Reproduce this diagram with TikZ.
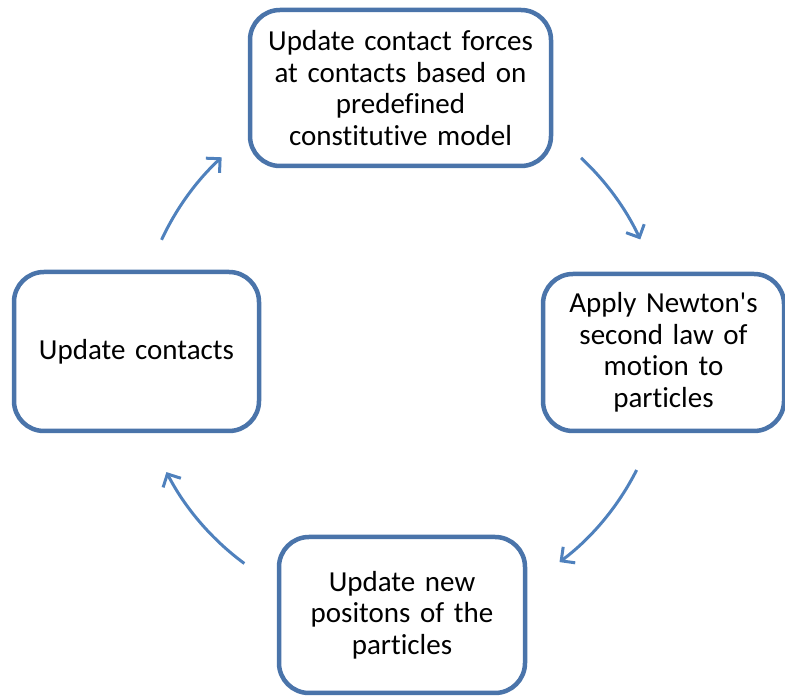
\documentclass[tikz,border=0pt]{standalone}
\usepackage{fontspec}
\setmainfont{Carlito}[Ligatures=NoCommon]
\usetikzlibrary{arrows.meta,calc}
\definecolor{boxline}{HTML}{4A74AA}
\definecolor{arrowline}{HTML}{4F81BD}
\tikzset{
  stepbox/.style={draw=boxline, line width=4.5pt, rounded corners=30pt, fill=white,
    align=center, font=\fontsize{29}{31.5}\selectfont, inner sep=0pt},
  flow/.style={draw=arrowline, line width=3pt,
    -{Straight Barb[length=10pt,width=20pt,line width=3pt]}}
}
\begin{document}
\begin{tikzpicture}[x=1pt,y=1pt]
\useasboundingbox (0,0) rectangle (785,696);
% process steps
\node[stepbox, minimum width=301pt, minimum height=156pt, text width=290pt] (forces) at (400.5,608)
  {Update contact forces\\at contacts based on\\predefined\\constitutive model};
\node[stepbox, minimum width=241pt, minimum height=157pt, text width=230pt] (newton) at (663.5,343.5)
  {Apply Newton\textquotesingle s\\second law of\\motion to\\particles};
\node[stepbox, minimum width=246pt, minimum height=156pt, text width=236pt] (positions) at (402,81)
  {Update new\\positons of the\\particles};
\node[stepbox, minimum width=245pt, minimum height=159pt, text width=236pt] (contacts) at (136.5,344.5)
  {Update contacts};
% cycle arrows: arcs of one circle around the hub
\coordinate (hub) at (401,345);
\coordinate (a1) at ($(hub)+(47:264)$);
\coordinate (a2) at ($(hub)+(-26.8:264)$);
\coordinate (a3) at ($(hub)+(233.6:264)$);
\coordinate (a4) at ($(hub)+(155.1:264)$);
\draw[flow] (a1) arc[start angle=47, end angle=25, radius=264];
\draw[flow] (a2) arc[start angle=-26.8, end angle=-53.1, radius=264];
\draw[flow] (a3) arc[start angle=233.6, end angle=207.3, radius=264];
\draw[flow] (a4) arc[start angle=155.1, end angle=132.8, radius=264];
\end{tikzpicture}
\end{document}
